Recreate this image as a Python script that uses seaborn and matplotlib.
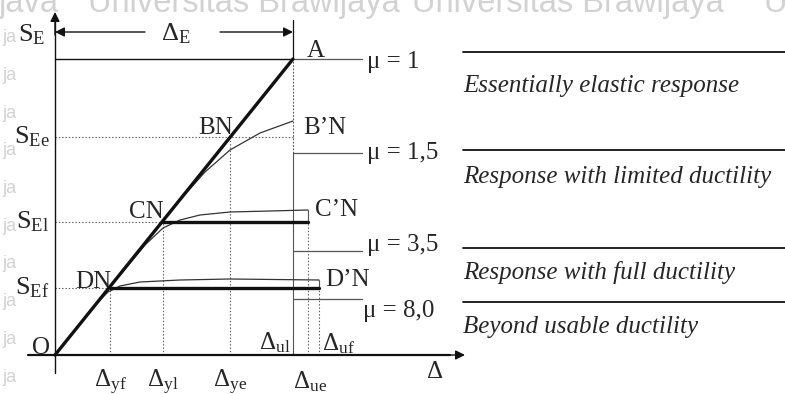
import matplotlib
matplotlib.use("Agg")
import matplotlib.pyplot as plt
import numpy as np
import pandas as pd
import seaborn as sns

# ---- Diagram quantities (strength S vs displacement Δ, origin at O) ----
# Strength levels
S_E, S_Ee, S_El, S_Ef = 296, 218, 133, 67
# Yield displacements of the bilinear idealisations
D_yf, D_yl, D_ye = 55, 108, 175
# Ultimate displacements
D_ue, D_ul, D_uf = 238, 253, 264

# Actual (curved) response branches read along their length
curve_B_x = [0, 60, 125, 150, 175, 205, 238]
curve_B_y = [0, 75, 155, 183, 205, 222, 234]
curve_C_x = [0, 65, 90, 108, 125, 145, 175, 215, 253]
curve_C_y = [0, 80, 110, 127, 135, 140, 143, 144, 145]
curve_D_x = [0, 40, 53, 65, 85, 125, 175, 264]
curve_D_y = [0, 50, 63, 69, 73, 75, 76, 75]

# Ductility limits and the response classes between them
mu_labels = ["μ = 1", "μ = 1,5", "μ = 3,5", "μ = 8,0"]
mu_levels = [296, 202, 104, 56]
class_lines = [303, 205, 107, 53]
class_labels = ["Essentially elastic response", "Response with limited ductility",
                "Response with full ductility", "Beyond usable ductility"]
class_label_y = [269, 178, 83, 28]

sns.set_theme(style="white")
plt.rcParams["font.family"] = ["Liberation Serif", "DejaVu Serif"]
plt.rcParams["mathtext.fontset"] = "custom"
plt.rcParams["mathtext.rm"] = "Liberation Serif"
plt.rcParams["mathtext.it"] = "Liberation Serif:italic"

fig = plt.figure(figsize=(7.85, 3.94), dpi=100)
ax = fig.add_axes([0, 0, 1, 1])
ax.set_xlim(-55, 730)
ax.set_ylim(-39, 355)
ax.axis("off")

K = "#111111"
G = "#555555"

# faint background lettering
wm = "#d2d2d2"
wm_kw = dict(family="Liberation Sans", fontsize=23.5, color=wm, va="baseline", zorder=0)
ax.text(-56, 343, "java", **wm_kw)
ax.text(33, 343, "Universitas Brawijaya", **wm_kw)
ax.text(357, 343, "Universitas Brawijaya", **wm_kw)
ax.text(708, 343, "Un", **wm_kw)
for yy in [318, 280, 242, 205, 167, 129, 91, 53, 15, -22]:
    ax.text(-53, yy, "ja", family="Liberation Sans", fontsize=13, color=wm,
            va="center", zorder=0)

# axes with arrow heads
ax.plot([0, 0], [-18, 335], color=K, lw=1.0, zorder=3)
ax.annotate("", xy=(0, 343), xytext=(0, 320),
            arrowprops=dict(arrowstyle="-|>", color=K, lw=1.0, mutation_scale=14,
                            shrinkA=0, shrinkB=0))
ax.plot([-27, 395], [0, 0], color=K, lw=1.6, zorder=3)
ax.annotate("", xy=(410, 0), xytext=(385, 0),
            arrowprops=dict(arrowstyle="-|>", color=K, lw=1.0, mutation_scale=14,
                            shrinkA=0, shrinkB=0))

# Δ_E span arrow
yE = 323
ax.annotate("", xy=(0, yE), xytext=(90, yE),
            arrowprops=dict(arrowstyle="-|>", color=K, lw=1.0, mutation_scale=14,
                            shrinkA=0, shrinkB=0))
ax.annotate("", xy=(D_ue, yE), xytext=(165, yE),
            arrowprops=dict(arrowstyle="-|>", color=K, lw=1.0, mutation_scale=14,
                            shrinkA=0, shrinkB=0))
ax.text(121, yE - 2, r"$\Delta_{\mathrm{E}}$", fontsize=19, ha="center", va="center")

# limit lines of the elastic response
ax.plot([0, D_ue], [S_E, S_E], color=K, lw=1.0)
ax.plot([D_ue, D_ue], [S_E, 335], color=K, lw=0.9)
ax.plot([D_ue, D_ue], [mu_levels[1], S_E], color=G, lw=0.8, ls=(0, (1.5, 1.5)))
ax.plot([D_ue, D_ue], [0, mu_levels[1]], color=G, lw=0.8)

# dotted guides to yield and ultimate points
dot = dict(color=G, lw=0.8, ls=(0, (1.2, 1.8)))
ax.plot([0, D_ue], [S_Ee, S_Ee], **dot)
ax.plot([0, D_yl], [S_El, S_El], **dot)
ax.plot([0, D_yf], [S_Ef, S_Ef], **dot)
ax.plot([D_ye, D_ye], [0, S_Ee], **dot)
ax.plot([D_yl, D_yl], [0, S_El], **dot)
ax.plot([D_yf, D_yf], [0, S_Ef], **dot)
ax.plot([D_ul, D_ul], [0, curve_C_y[-1]], **dot)
ax.plot([D_uf, D_uf], [0, curve_D_y[-1]], **dot)

# thin actual response curves
curves = pd.concat([
    pd.DataFrame({"d": curve_B_x, "s": curve_B_y, "k": "B"}),
    pd.DataFrame({"d": curve_C_x, "s": curve_C_y, "k": "C"}),
    pd.DataFrame({"d": curve_D_x, "s": curve_D_y, "k": "D"}),
])
sns.lineplot(data=curves, x="d", y="s", units="k", estimator=None, sort=False,
             color="#333333", lw=0.9, ax=ax, legend=False)

# bilinear idealisations and the elastic line (thick)
ax.plot([0, D_ue], [0, S_E], color=K, lw=2.4, solid_capstyle="round", zorder=4)
ax.plot([D_yl, D_ul], [S_El, S_El], color=K, lw=2.4, zorder=4)
ax.plot([D_yf, D_uf], [S_Ef, S_Ef], color=K, lw=2.4, zorder=4)
ax.plot([D_ul, D_ul], [S_El, curve_C_y[-1]], color=G, lw=0.8)
ax.plot([D_uf, D_uf], [S_Ef, curve_D_y[-1]], color=G, lw=0.8)

# ductility limit marks
mu_x = [312, 312, 312, 308]
mu_y = [293, 202, 110, 44]
for lvl, lab, tx, ty in zip(mu_levels, mu_labels, mu_x, mu_y):
    ax.plot([D_ue, 307], [lvl, lvl], color=G, lw=0.9)
    ax.text(tx, ty, lab, fontsize=18, va="center", ha="left")

# response classes on the right
for yl in class_lines:
    ax.plot([408, 730], [yl, yl], color=K, lw=1.3)
for lab, ty in zip(class_labels, class_label_y):
    ax.text(408, ty, lab, fontsize=18, style="italic", va="center", ha="left")

# point and level labels
fs = 18
ax.text(252, 304, "A", fontsize=fs, ha="left", va="center")
ax.text(161, 227, "BN", fontsize=fs, ha="center", va="center")
ax.text(248, 227, "B’N", fontsize=fs, ha="left", va="center")
ax.text(91, 143, "CN", fontsize=fs, ha="center", va="center")
ax.text(260, 145, "C’N", fontsize=fs, ha="left", va="center")
ax.text(38, 73, "DN", fontsize=fs, ha="center", va="center")
ax.text(270, 75, "D’N", fontsize=fs, ha="left", va="center")
ax.text(-14, 7, "O", fontsize=fs, ha="center", va="center")

sfs = 19
ax.text(-23, 320, r"$\mathrm{S}_{\mathrm{E}}$", fontsize=sfs, ha="center", va="center")
ax.text(-23, 218, r"$\mathrm{S}_{\mathrm{Ee}}$", fontsize=sfs, ha="center", va="center")
ax.text(-23, 133, r"$\mathrm{S}_{\mathrm{El}}$", fontsize=sfs, ha="center", va="center")
ax.text(-23, 67, r"$\mathrm{S}_{\mathrm{Ef}}$", fontsize=sfs, ha="center", va="center")

dfs = 18
ax.text(D_yf, -27, r"$\Delta_{\mathrm{yf}}$", fontsize=dfs, ha="center", va="center")
ax.text(D_yl, -27, r"$\Delta_{\mathrm{yl}}$", fontsize=dfs, ha="center", va="center")
ax.text(D_ye, -27, r"$\Delta_{\mathrm{ye}}$", fontsize=dfs, ha="center", va="center")
ax.text(255, -27, r"$\Delta_{\mathrm{ue}}$", fontsize=dfs, ha="center", va="center")
ax.text(220, 12, r"$\Delta_{\mathrm{ul}}$", fontsize=dfs, ha="center", va="center")
ax.text(283, 11, r"$\Delta_{\mathrm{uf}}$", fontsize=dfs, ha="center", va="center")
ax.text(380, -17, r"$\Delta$", fontsize=dfs, ha="center", va="center")

fig.savefig("out.png", dpi=100, facecolor="white")
